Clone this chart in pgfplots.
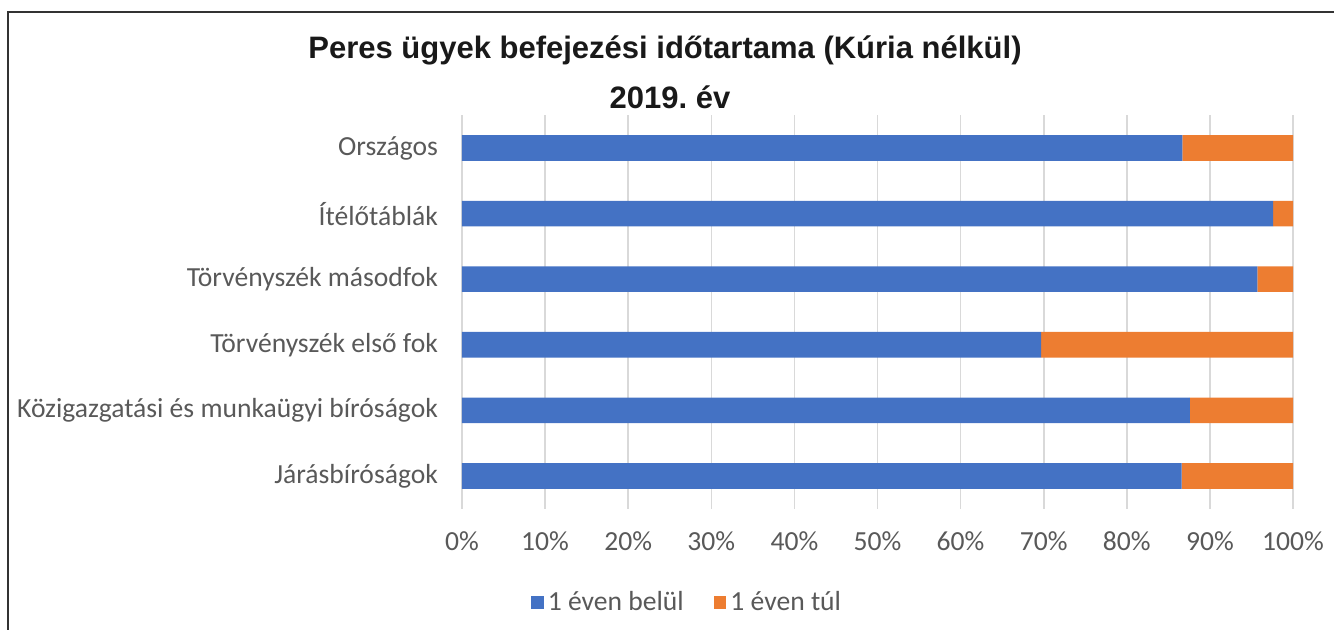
\documentclass[border=0pt]{standalone}
\usepackage{pgfplots}
\pgfplotsset{compat=1.18}
\usepackage{fontspec}
\setmainfont{Carlito}
\newfontfamily\titlefont{Liberation Sans}
\definecolor{cblue}{HTML}{4472C4}
\definecolor{corange}{HTML}{ED7D31}
\definecolor{tgray}{HTML}{595959}
\definecolor{ggray}{HTML}{D9D9D9}
\frenchspacing
\begin{document}
\begin{tikzpicture}
\useasboundingbox (0,0) rectangle (667pt,315pt);
\draw[line width=1pt, color=black!80] (4pt,0) -- (4pt,309pt) -- (667pt,309pt);
\node[font=\titlefont\bfseries\fontsize{15.5}{18}\selectfont, text=black!90] at (332.5pt,290pt) {Peres ügyek befejezési időtartama (Kúria nélkül)};
\node[font=\titlefont\bfseries\fontsize{15.5}{18}\selectfont, text=black!90] at (335pt,266.5pt) {2019. év};
\begin{axis}[
  at={(231pt,60.6pt)}, anchor=south west,
  scale only axis, width=415.5pt, height=196.8pt,
  xbar stacked, bar width=12.8pt,
  xmin=0, xmax=100, ymin=-0.5, ymax=5.5,
  axis line style={draw=none},
  xmajorgrids, grid style={ggray, line width=0.8pt},
  xtick={0,10,...,100},
  xticklabels={0\%,10\%,20\%,30\%,40\%,50\%,60\%,70\%,80\%,90\%,100\%},
  ytick={0,...,5},
  yticklabels={Járásbíróságok,Közigazgatási és munkaügyi bíróságok,Törvényszék első fok,Törvényszék másodfok,Ítélőtáblák,Országos},
  major tick length=0pt,
  tick label style={font=\fontsize{13.8}{16}\selectfont, text=tgray},
  xticklabel style={yshift=-8pt},
  yticklabel style={xshift=-8.5pt},
  legend columns=2,
  legend style={at={(0.272,-0.239)}, anchor=center, draw=none, font=\fontsize{13.8}{16}\selectfont, text=tgray, /tikz/every even column/.append style={column sep=13pt}},
  legend image code/.code={\fill[#1] (0pt,-3.2pt) rectangle (6.4pt,3.2pt);},
]
\addplot[fill=cblue, draw=none] coordinates {(86.6,0) (87.6,1) (69.7,2) (95.7,3) (97.6,4) (86.7,5)};
\addplot[fill=corange, draw=none] coordinates {(13.4,0) (12.4,1) (30.3,2) (4.3,3) (2.4,4) (13.3,5)};
\legend{1 éven belül, 1 éven túl}
\end{axis}
\end{tikzpicture}
\end{document}
